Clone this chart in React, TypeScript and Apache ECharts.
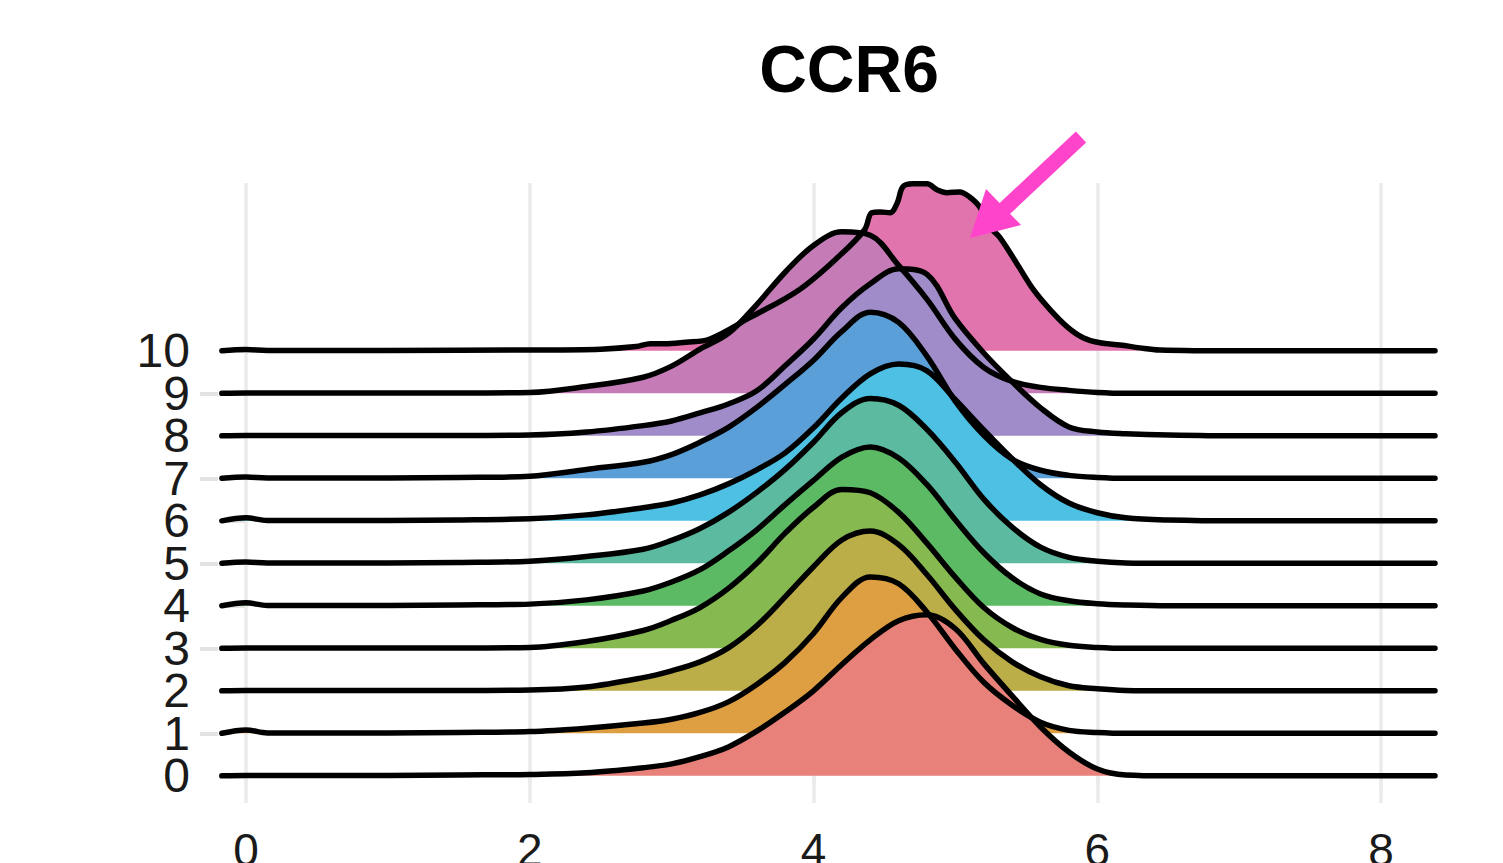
import React, { useEffect, useRef } from 'react';
import * as echarts from 'echarts';

const TITLE = 'CCR6';
const GROUPS = ['0', '1', '2', '3', '4', '5', '6', '7', '8', '9', '10'];
const X_TICKS = [0, 2, 4, 6, 8];
const Y_TICKS_EVEN = [0, 2, 4, 6, 8, 10];
const Y_TICKS_ODD = [1, 3, 5, 7, 9];

// shared x grid for ridges 0..9
const XS = [-0.17, 0, 0.15, 0.5, 1.0, 1.5, 2.0, 2.4, 2.8, 3.0, 3.2, 3.4, 3.6, 3.8, 4.0, 4.2, 4.4, 4.6, 4.8, 5.0, 5.2, 5.4, 5.6, 5.8, 6.0, 6.2, 6.5, 7.0, 8.38];

const R0 = [0, 0.01, 0.01, 0.01, 0.01, 0.02, 0.03, 0.07, 0.19, 0.28, 0.45, 0.68, 1.05, 1.5, 2.0, 2.62, 3.2, 3.65, 3.79, 3.46, 2.64, 1.88, 1.15, 0.56, 0.16, 0.02, 0, 0, 0];
const R1 = [0, 0.08, 0.01, 0.01, 0.01, 0.02, 0.04, 0.12, 0.24, 0.33, 0.49, 0.74, 1.15, 1.67, 2.35, 3.2, 3.68, 3.52, 2.85, 1.98, 1.2, 0.66, 0.26, 0.07, 0.02, 0, 0, 0, 0];
const R2 = [0, 0.01, 0.01, 0.01, 0.01, 0.01, 0.02, 0.09, 0.31, 0.47, 0.68, 1.01, 1.53, 2.21, 2.92, 3.55, 3.76, 3.44, 2.73, 1.91, 1.2, 0.68, 0.33, 0.12, 0.05, 0.01, 0, 0, 0];
const R3 = [0, 0.01, 0.01, 0.01, 0.01, 0.01, 0.02, 0.16, 0.42, 0.66, 0.96, 1.41, 2.0, 2.71, 3.32, 3.74, 3.66, 3.2, 2.47, 1.67, 0.96, 0.49, 0.21, 0.07, 0.02, 0, 0, 0, 0];
const R4 = [0, 0.07, 0.01, 0.01, 0.01, 0.02, 0.04, 0.14, 0.35, 0.56, 0.85, 1.29, 1.79, 2.38, 2.95, 3.5, 3.74, 3.48, 2.85, 2.02, 1.25, 0.66, 0.28, 0.12, 0.05, 0.02, 0, 0, 0];
const R5 = [0, 0.03, 0.01, 0.01, 0.01, 0.02, 0.05, 0.16, 0.33, 0.54, 0.82, 1.2, 1.67, 2.21, 2.85, 3.55, 3.88, 3.72, 3.15, 2.38, 1.51, 0.85, 0.38, 0.14, 0.05, 0.01, 0, 0, 0];
const R6 = [0, 0.07, 0.01, 0.01, 0.01, 0.02, 0.05, 0.14, 0.31, 0.42, 0.61, 0.87, 1.2, 1.6, 2.19, 2.89, 3.46, 3.69, 3.53, 2.85, 2.14, 1.46, 0.85, 0.42, 0.19, 0.07, 0.02, 0, 0];
const R7 = [0, 0.03, 0.01, 0.01, 0.01, 0.02, 0.05, 0.21, 0.38, 0.56, 0.85, 1.2, 1.67, 2.21, 2.78, 3.46, 3.91, 3.67, 2.87, 1.81, 1.01, 0.45, 0.19, 0.07, 0.02, 0, 0, 0, 0];
const R8 = [0, 0.01, 0.01, 0.01, 0.01, 0.01, 0.02, 0.09, 0.24, 0.35, 0.54, 0.75, 1.06, 1.65, 2.28, 3.02, 3.58, 3.93, 3.8, 2.75, 1.95, 1.27, 0.66, 0.21, 0.09, 0.05, 0.02, 0, 0];
const R9 = [0, 0.01, 0.01, 0.01, 0.01, 0.01, 0.02, 0.16, 0.38, 0.64, 1.04, 1.41, 2.09, 2.85, 3.48, 3.8, 3.72, 3.01, 2.21, 1.27, 0.61, 0.28, 0.14, 0.07, 0.02, 0, 0, 0, 0];

// ridge 10 has a jagged top, so it gets its own x grid
const X10 = [-0.17, 0, 0.15, 1.0, 2.0, 2.5, 2.75, 2.85, 2.97, 3.1, 3.27, 3.55, 3.9, 4.19, 4.36, 4.41, 4.47, 4.54, 4.59, 4.63, 4.7, 4.8, 4.87, 4.94, 5.03, 5.1, 5.17, 5.24, 5.31, 5.43, 5.55, 5.67, 5.79, 5.9, 6.02, 6.16, 6.3, 6.44, 7.0, 8.38];
const R10 = [0, 0.03, 0.01, 0.01, 0.02, 0.04, 0.1, 0.17, 0.17, 0.2, 0.28, 0.78, 1.44, 2.26, 2.85, 3.25, 3.27, 3.25, 3.48, 3.86, 3.93, 3.93, 3.79, 3.72, 3.74, 3.62, 3.39, 2.92, 2.68, 2.07, 1.44, 0.96, 0.56, 0.31, 0.19, 0.14, 0.07, 0.02, 0, 0];

const RIDGE_X = [XS, XS, XS, XS, XS, XS, XS, XS, XS, XS, X10];
const RIDGE_H = [R0, R1, R2, R3, R4, R5, R6, R7, R8, R9, R10];
const COLORS = ['#E8817A', '#DE9E42', '#BBAD47', '#86BA50', '#5DBA64', '#5CBAA0', '#4DC0E3', '#5A9FD8', '#A08CC8', '#C47BB6', '#E274AD'];

const FONT = '"Liberation Sans", Arial, Helvetica, sans-serif';
const Y_MIN = -0.64;
const Y_MAX = 13.95;

function yAxisFor(values: number[]) {
  return {
    type: 'value',
    position: 'left',
    offset: 0,
    min: Y_MIN,
    max: Y_MAX,
    splitLine: { show: false },
    axisLine: { show: false },
    axisTick: {
      show: true,
      customValues: values,
      length: 18,
      lineStyle: { color: '#e3e3e3', width: 4 },
    },
    axisLabel: {
      customValues: values,
      fontSize: 48,
      color: '#1a1a1a',
      fontFamily: FONT,
      margin: 28,
      showMinLabel: true,
      showMaxLabel: true,
      hideOverlap: false,
      formatter: (v: number) => String(Math.round(v)),
    },
  };
}

export default function App() {
  const ref = useRef<HTMLDivElement>(null);

  useEffect(() => {
    document.body.style.margin = '0';
    document.body.style.overflow = 'hidden';
    const chart = echarts.init(ref.current as HTMLDivElement, null, { renderer: 'svg' });

    const ridgeSeries: any[] = [];
    for (let i = GROUPS.length - 1; i >= 0; i--) {
      const xs = RIDGE_X[i];
      const hs = RIDGE_H[i];
      const base = Number(GROUPS[i]);
      const s: any = {
        type: 'line',
        name: GROUPS[i],
        yAxisIndex: 0,
        data: xs.map((x, j) => [x, base + hs[j]]),
        smooth: 0.35,
        symbol: 'none',
        silent: true,
        lineStyle: { color: '#000000', width: 5.5, join: 'round', cap: 'round' },
        areaStyle: { color: COLORS[i], opacity: 1, origin: base },
        emphasis: { disabled: true },
      };
      if (i === 0) {
        s.markLine = {
          silent: true,
          z: 1,
          symbol: ['none', 'none'],
          label: { show: false },
          emphasis: { disabled: true },
          lineStyle: { color: '#ebebeb', width: 3.5, type: 'solid' },
          data: X_TICKS.map((v) => ({ xAxis: v })),
        };
      }
      ridgeSeries.push(s);
    }

    const option: any = {
      animation: false,
      backgroundColor: '#ffffff',
      grid: { left: 218, right: 68, top: 183, bottom: 60, containLabel: false, outerBoundsMode: 'none' },
      xAxis: {
        type: 'value',
        min: -0.197,
        max: 8.38,
        splitLine: { show: false },
        axisLine: { show: false },
        axisTick: {
          show: true,
          customValues: X_TICKS,
          length: 10,
          lineStyle: { color: '#ebebeb', width: 3.5 },
        },
        axisLabel: {
          customValues: X_TICKS,
          fontSize: 46,
          color: '#1a1a1a',
          fontFamily: FONT,
          margin: 24,
          showMinLabel: true,
          showMaxLabel: true,
          hideOverlap: false,
        },
      },
      yAxis: [yAxisFor(Y_TICKS_EVEN), yAxisFor(Y_TICKS_ODD)],
      series: ridgeSeries,
      graphic: [
        {
          type: 'text',
          x: 849,
          y: 69,
          z: 100,
          style: {
            text: TITLE,
            fontSize: 66,
            fontWeight: 'bold',
            fontFamily: FONT,
            fill: '#000000',
            align: 'center',
            verticalAlign: 'middle',
          },
        },
        {
          type: 'line',
          z: 100,
          shape: { x1: 1081, y1: 137, x2: 1000, y2: 213 },
          style: { stroke: '#FF44CC', lineWidth: 15 },
        },
        {
          type: 'polygon',
          z: 100,
          shape: { points: [[970, 238], [986, 189], [1021, 225]] },
          style: { fill: '#FF44CC' },
        },
      ],
    };

    chart.setOption(option);
    return () => chart.dispose();
  }, []);

  return <div ref={ref} style={{ width: 1503, height: 863 }} />;
}
